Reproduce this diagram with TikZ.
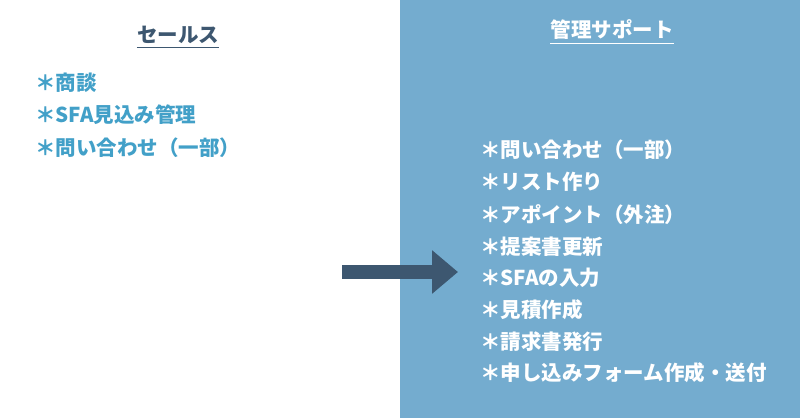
\documentclass[tikz,border=0pt]{standalone}
\usepackage{fontspec}
\setmainfont{Noto Sans CJK JP}
\usepackage{tikz}
\usetikzlibrary{arrows.meta}
\usepackage{xcolor}
\definecolor{panelblue}{RGB}{116,172,207}
\definecolor{itemblue}{RGB}{66,160,200}
\definecolor{darkslate}{RGB}{61,87,112}

\begin{document}
\begin{tikzpicture}[x=1pt, y=-1pt,
  headL/.style={inner sep=0pt, text=darkslate,
                font=\fontsize{20.5}{24}\selectfont\bfseries},
  headR/.style={inner sep=0pt, text=white,
                font=\fontsize{20.5}{24}\selectfont\bfseries},
  itemL/.style={anchor=west, inner sep=0pt, text=itemblue,
                font=\fontsize{20.5}{24}\selectfont\bfseries},
  itemR/.style={anchor=west, inner sep=0pt, text=white,
                font=\fontsize{20.5}{24}\selectfont\bfseries},
  ulineL/.style={draw=darkslate, line width=1pt},
  ulineR/.style={draw=white, line width=1pt},
  bigarr/.style={draw=darkslate, line width=14pt,
                 -{Triangle[length=26pt, width=42pt]}}
]
\useasboundingbox (0,0) rectangle (800,418);
\fill[white] (0,0) rectangle (400,418);
\fill[panelblue] (400,0) rectangle (800,418);

% headings
\node[headL] (hl) at (178,35) {セールス};
\node[headR] (hr) at (612,30) {管理サポート};
\draw[ulineL] ([yshift=-3pt]hl.south west) -- ([yshift=-3pt]hl.south east);
\draw[ulineR] ([yshift=-3pt]hr.south west) -- ([yshift=-3pt]hr.south east);

% sales side
\node[itemL] (l1) at (35, 83) {＊商談};
\node[itemL] (l2) at (35,115) {＊SFA見込み管理};
\node[itemL] (l3) at (35,148) {＊問い合わせ（一部）};

% support side
\node[itemR] (r1) at (480,150) {＊問い合わせ（一部）};
\node[itemR] (r2) at (480,182) {＊リスト作り};
\node[itemR] (r3) at (480,215) {＊アポイント（外注）};
\node[itemR] (r4) at (480,247) {＊提案書更新};
\node[itemR] (r5) at (480,278) {＊SFAの入力};
\node[itemR] (r6) at (480,310) {＊見積作成};
\node[itemR] (r7) at (480,342) {＊請求書発行};
\node[itemR] (r8) at (480,373) {＊申し込みフォーム作成・送付};

\coordinate (from) at (342,272);
\coordinate (to) at (458,272);
\draw[bigarr] (from) -- (to);
\end{tikzpicture}
\end{document}
